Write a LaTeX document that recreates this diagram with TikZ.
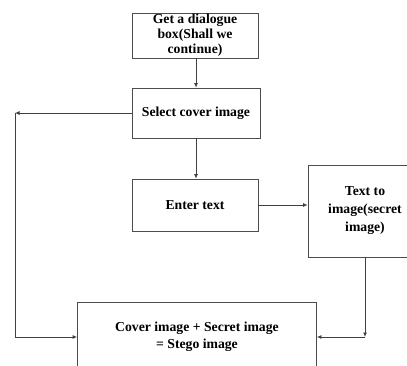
\documentclass[tikz,border=0pt]{standalone}
\usepackage{fontspec}
\setmainfont{Liberation Serif}
\usetikzlibrary{arrows.meta}
\begin{document}
\begin{tikzpicture}[x=1pt,y=-1pt,
  box/.style={draw=black!70,line width=0.8pt,rectangle,inner sep=0pt,align=center,
    font=\fontsize{13.7}{15}\selectfont\bfseries},
  arr/.style={draw=black!75,line width=0.8pt,-{Latex[length=4.5pt,width=4pt]}},
  ln/.style={draw=black!75,line width=0.8pt}]
\clip (0,0) rectangle (407,365);
\node[box,minimum width=126pt,minimum height=45pt] (b1) at (195,35.5) {Get a dialogue\\box(Shall we\\continue)};
\node[box,minimum width=128pt,minimum height=50pt] (b2) at (196,113) {Select cover image};
\node[box,minimum width=126pt,minimum height=52pt] (b3) at (195,205) {Enter text};
\node[box,minimum width=114pt,minimum height=92pt,font=\fontsize{13.7}{18}\selectfont\bfseries] (b5) at (365,211) {Text to\\image(secret\\image)};
\node[box,minimum width=239pt,minimum height=70pt,font=\fontsize{13.7}{17.5}\selectfont\bfseries] (b4) at (197,337) {Cover image + Secret image\\= Stego image};
\coordinate (L1) at (15,113);
\coordinate (R1) at (365,337);
\draw[arr] (b1.south -| b2.north) -- (b2.north);
\draw[arr] (b2.south) -- (b2.south |- b3.north);
\draw[arr] (b2.west) -- (L1);
\draw[arr] (L1) |- (b4.west);
\draw[arr] (b3.east) -- (b3.east -| b5.west);
\draw[arr] (b5.south) -- (R1);
\draw[arr] (R1) -- (b4.east);
\end{tikzpicture}
\end{document}
